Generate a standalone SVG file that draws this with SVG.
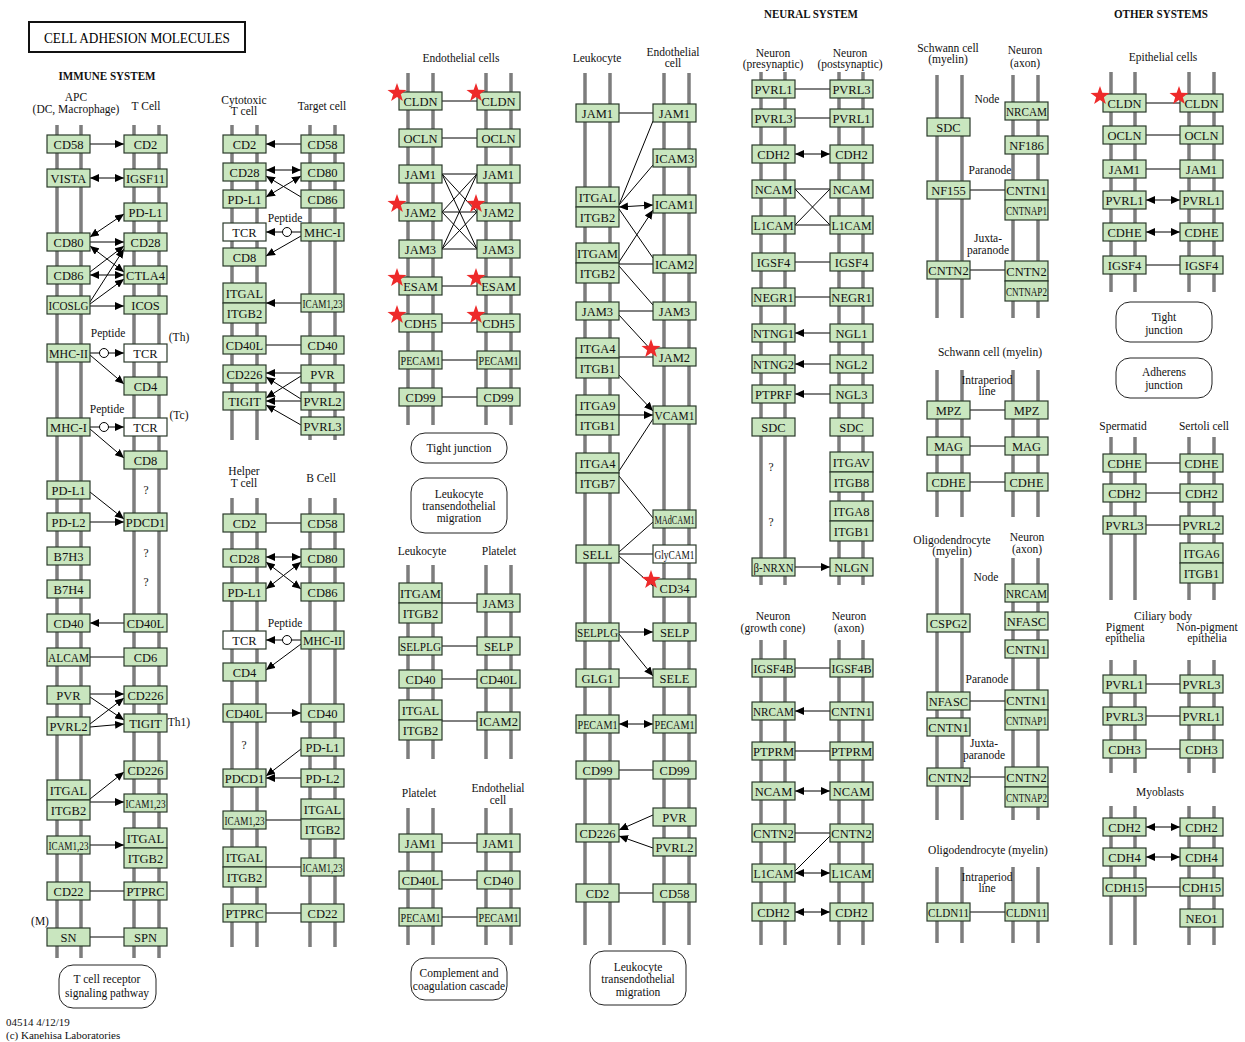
<svg xmlns="http://www.w3.org/2000/svg" width="1245" height="1042" viewBox="0 0 1245 1042">
<style>
.n rect{fill:#c9e6bf;stroke:#2b3a2b;stroke-width:1.2}
.n.w rect{fill:#fff}
.n text{font-family:"Liberation Serif",serif;font-size:12.5px;text-anchor:middle;fill:#111}
.m path{stroke:#7d7d7d;stroke-width:3.5;fill:none}
#connectors line{stroke:#000;stroke-width:1;fill:none}
.a{marker-end:url(#ah)}
.b{marker-start:url(#ah);marker-end:url(#ah)}
.t{font-family:"Liberation Serif",serif;font-size:11.5px;text-anchor:middle;fill:#111}
.h{font-family:"Liberation Serif",serif;font-size:12px;font-weight:bold;text-anchor:middle;fill:#111}
.pw rect{fill:#fff;stroke:#222;stroke-width:1}
.pep{fill:#fff;stroke:#000;stroke-width:1}
.star{fill:#ee2a2a}
</style>
<defs>
<marker id="ah" markerUnits="userSpaceOnUse" markerWidth="9" markerHeight="8" refX="9" refY="4" orient="auto-start-reverse"><path d="M0,0L9,4L0,8z" fill="#000"/></marker>
<polygon id="st" points="0,-10 2.35,-3.24 9.51,-3.09 3.8,1.24 5.88,8.09 0,4 -5.88,8.09 -3.8,1.24 -9.51,-3.09 -2.35,-3.24"/>
</defs>
<rect width="1245" height="1042" fill="#fff"/>

<g id="membranes" class="m"><path d="M57 125V958M81 125V958M134 125V958M159 125V958
M232 125V440M257 125V440M310 125V440M335 125V440
M232 498V947M257 498V947M310 498V947M335 498V947
M408 73V425M433 73V425M486 73V425M511 73V425
M408 565V759M433 565V759M486 565V759M511 565V759
M408 808V945M433 808V945M486 808V945M511 808V945
M585 73V945M610 73V945M664 73V945M689 73V945
M761 72V585M785 72V585M839 72V585M863 72V585
M761 640V945M785 640V945M839 640V945M863 640V945
M937 75V318M962 75V318M1013 75V318M1038 75V318
M937 370V517M962 370V517M1013 370V517M1038 370V517
M937 558V820M962 558V820M1013 558V820M1038 558V820
M937 867V943M962 867V943M1013 867V943M1038 867V943
M1111 72V292M1135 72V292M1189 72V292M1214 72V292
M1111 437V600M1135 437V600M1189 437V600M1214 437V600
M1111 660V773M1135 660V773M1189 660V773M1214 660V773
M1111 806V945M1135 806V945M1189 806V945M1214 806V945"/></g>

<g id="connectors">
<line class="a" x1="90" y1="144" x2="124" y2="144"/>
<line class="b" x1="90" y1="178" x2="124" y2="178"/>
<line class="b" x1="90" y1="237" x2="124" y2="214"/>
<line class="a" x1="90" y1="242" x2="124" y2="242"/>
<line class="b" x1="90" y1="246" x2="124" y2="272"/>
<line class="a" x1="90" y1="272" x2="124" y2="246"/>
<line class="b" x1="90" y1="275" x2="124" y2="275"/>
<line class="a" x1="90" y1="302" x2="124" y2="249"/>
<line class="a" x1="90" y1="304" x2="124" y2="279"/>
<line class="a" x1="90" y1="306" x2="124" y2="306"/>
<line class="a" x1="90" y1="353" x2="124" y2="353"/>
<line class="a" x1="90" y1="355" x2="124" y2="384"/>
<line class="a" x1="90" y1="427" x2="124" y2="427"/>
<line class="a" x1="90" y1="429" x2="124" y2="458"/>
<line class="a" x1="90" y1="492" x2="124" y2="519"/>
<line class="a" x1="90" y1="522" x2="124" y2="522"/>
<line class="a" x1="124" y1="623" x2="90" y2="623"/>
<line x1="90" y1="657" x2="124" y2="657"/>
<line class="a" x1="90" y1="694" x2="124" y2="694"/>
<line class="a" x1="90" y1="697" x2="124" y2="720"/>
<line class="a" x1="90" y1="724" x2="124" y2="698"/>
<line class="a" x1="90" y1="727" x2="124" y2="724"/>
<line class="a" x1="90" y1="799" x2="124" y2="772"/>
<line class="a" x1="90" y1="802" x2="124" y2="802"/>
<line class="a" x1="90" y1="845" x2="124" y2="845"/>
<line x1="90" y1="891" x2="124" y2="891"/>
<line x1="90" y1="937" x2="124" y2="937"/>

<line class="a" x1="301" y1="144" x2="266" y2="144"/>
<line class="b" x1="266" y1="170" x2="301" y2="170"/>
<line class="a" x1="301" y1="197" x2="266" y2="176"/>
<line class="b" x1="266" y1="197" x2="301" y2="176"/>
<line class="a" x1="301" y1="232" x2="266" y2="232"/>
<line class="a" x1="301" y1="236" x2="266" y2="256"/>
<line class="a" x1="301" y1="303" x2="266" y2="303"/>
<line x1="266" y1="345" x2="301" y2="345"/>
<line class="a" x1="301" y1="373" x2="266" y2="373"/>
<line class="a" x1="301" y1="376" x2="266" y2="398"/>
<line class="a" x1="301" y1="399" x2="266" y2="377"/>
<line class="a" x1="301" y1="401" x2="266" y2="401"/>
<line class="a" x1="301" y1="425" x2="266" y2="405"/>

<line x1="266" y1="523" x2="301" y2="523"/>
<line class="b" x1="266" y1="557" x2="301" y2="557"/>
<line class="b" x1="266" y1="562" x2="301" y2="589"/>
<line class="b" x1="266" y1="589" x2="301" y2="562"/>
<line class="a" x1="301" y1="640" x2="266" y2="640"/>
<line class="a" x1="301" y1="644" x2="266" y2="670"/>
<line class="a" x1="266" y1="713" x2="301" y2="713"/>
<line class="a" x1="301" y1="749" x2="266" y2="776"/>
<line class="a" x1="301" y1="778" x2="266" y2="778"/>
<line x1="266" y1="820" x2="301" y2="820"/>
<line x1="266" y1="867" x2="301" y2="867"/>
<line x1="266" y1="913" x2="301" y2="913"/>

<line x1="442" y1="101" x2="477" y2="101"/>
<line x1="442" y1="138" x2="477" y2="138"/>
<line x1="442" y1="174" x2="477" y2="174"/>
<line x1="442" y1="212" x2="477" y2="212"/>
<line x1="442" y1="249" x2="477" y2="249"/>
<line x1="442" y1="174" x2="477" y2="212"/>
<line x1="442" y1="174" x2="477" y2="249"/>
<line x1="442" y1="212" x2="477" y2="174"/>
<line x1="442" y1="212" x2="477" y2="249"/>
<line x1="442" y1="249" x2="477" y2="174"/>
<line x1="442" y1="249" x2="477" y2="212"/>
<line x1="442" y1="286" x2="477" y2="286"/>
<line x1="442" y1="323" x2="477" y2="323"/>
<line x1="442" y1="360" x2="477" y2="360"/>
<line x1="442" y1="397" x2="477" y2="397"/>
<line x1="442" y1="603" x2="477" y2="603"/>
<line x1="442" y1="646" x2="477" y2="646"/>
<line x1="442" y1="679" x2="477" y2="679"/>
<line x1="442" y1="721" x2="477" y2="721"/>
<line x1="442" y1="843" x2="477" y2="843"/>
<line x1="442" y1="880" x2="477" y2="880"/>
<line x1="442" y1="917" x2="477" y2="917"/>

<line x1="619" y1="113" x2="653" y2="113"/>
<line x1="619" y1="205" x2="653" y2="121"/>
<line x1="619" y1="205" x2="653" y2="165"/>
<line class="b" x1="619" y1="207" x2="653" y2="205"/>
<line x1="619" y1="209" x2="653" y2="258"/>
<line class="a" x1="619" y1="262" x2="653" y2="210"/>
<line x1="619" y1="264" x2="653" y2="264"/>
<line x1="619" y1="266" x2="653" y2="305"/>
<line x1="619" y1="311" x2="653" y2="311"/>
<line x1="619" y1="315" x2="653" y2="352"/>
<line x1="619" y1="357" x2="653" y2="357"/>
<line class="a" x1="619" y1="375" x2="653" y2="411"/>
<line class="a" x1="619" y1="415" x2="653" y2="415"/>
<line x1="619" y1="471" x2="653" y2="419"/>
<line x1="619" y1="476" x2="653" y2="518"/>
<line x1="619" y1="552" x2="653" y2="522"/>
<line x1="619" y1="554" x2="653" y2="554"/>
<line x1="619" y1="556" x2="653" y2="586"/>
<line class="a" x1="619" y1="632" x2="653" y2="632"/>
<line class="a" x1="619" y1="634" x2="653" y2="676"/>
<line x1="619" y1="678" x2="653" y2="678"/>
<line class="b" x1="619" y1="724" x2="653" y2="724"/>
<line x1="619" y1="770" x2="653" y2="770"/>
<line class="a" x1="653" y1="815" x2="619" y2="830"/>
<line class="a" x1="653" y1="848" x2="619" y2="836"/>
<line x1="619" y1="893" x2="653" y2="893"/>

<line x1="795" y1="89" x2="830" y2="89"/>
<line x1="795" y1="118" x2="830" y2="118"/>
<line class="b" x1="795" y1="154" x2="830" y2="154"/>
<line x1="795" y1="189" x2="830" y2="189"/>
<line x1="795" y1="225" x2="830" y2="225"/>
<line x1="795" y1="189" x2="830" y2="225"/>
<line x1="795" y1="225" x2="830" y2="189"/>
<line x1="795" y1="262" x2="830" y2="262"/>
<line x1="795" y1="297" x2="830" y2="297"/>
<line class="a" x1="830" y1="333" x2="795" y2="333"/>
<line class="a" x1="830" y1="364" x2="795" y2="364"/>
<line class="a" x1="830" y1="394" x2="795" y2="394"/>
<line class="a" x1="795" y1="567" x2="830" y2="567"/>
<line x1="795" y1="668" x2="830" y2="668"/>
<line class="a" x1="830" y1="711" x2="795" y2="711"/>
<line x1="795" y1="751" x2="830" y2="751"/>
<line class="b" x1="795" y1="791" x2="830" y2="791"/>
<line x1="795" y1="833" x2="830" y2="833"/>
<line x1="795" y1="871" x2="830" y2="836"/>
<line class="b" x1="795" y1="873" x2="830" y2="873"/>
<line class="b" x1="795" y1="912" x2="830" y2="912"/>

<line x1="970" y1="190" x2="1005" y2="190"/>
<line x1="970" y1="270" x2="1005" y2="270"/>
<line x1="970" y1="410" x2="1005" y2="410"/>
<line x1="970" y1="446" x2="1005" y2="446"/>
<line x1="970" y1="482" x2="1005" y2="482"/>
<line x1="970" y1="701" x2="1005" y2="701"/>
<line x1="970" y1="777" x2="1005" y2="777"/>
<line x1="970" y1="912" x2="1005" y2="912"/>

<line x1="1146" y1="103" x2="1180" y2="103"/>
<line x1="1146" y1="135" x2="1180" y2="135"/>
<line x1="1146" y1="169" x2="1180" y2="169"/>
<line class="b" x1="1146" y1="200" x2="1180" y2="200"/>
<line class="b" x1="1146" y1="232" x2="1180" y2="232"/>
<line x1="1146" y1="265" x2="1180" y2="265"/>
<line x1="1146" y1="463" x2="1180" y2="463"/>
<line x1="1146" y1="493" x2="1180" y2="493"/>
<line x1="1146" y1="525" x2="1180" y2="525"/>
<line x1="1146" y1="684" x2="1180" y2="684"/>
<line x1="1146" y1="716" x2="1180" y2="716"/>
<line x1="1146" y1="749" x2="1180" y2="749"/>
<line class="b" x1="1146" y1="827" x2="1180" y2="827"/>
<line class="b" x1="1146" y1="857" x2="1180" y2="857"/>
<line x1="1146" y1="887" x2="1180" y2="887"/>
<circle class="pep" cx="104" cy="353" r="4.5"/>
<circle class="pep" cx="104" cy="427" r="4.5"/>
<circle class="pep" cx="287" cy="232" r="4.5"/>
<circle class="pep" cx="287" cy="640" r="4.5"/>
</g>

<!-- Panel A: APC / T cell -->
<g id="a-cd58" class="n"><rect x="47" y="135" width="43" height="18"/><text x="68.5" y="148.5">CD58</text></g>
<g id="a-vista" class="n"><rect x="47" y="169" width="43" height="18"/><text x="68.5" y="182.5">VISTA</text></g>
<g id="a-cd80" class="n"><rect x="47" y="233" width="43" height="18"/><text x="68.5" y="246.5">CD80</text></g>
<g id="a-cd86" class="n"><rect x="47" y="266" width="43" height="18"/><text x="68.5" y="279.5">CD86</text></g>
<g id="a-icoslg" class="n"><rect x="47" y="296" width="43" height="18"/><text x="68.5" y="309.5" textLength="40" lengthAdjust="spacingAndGlyphs">ICOSLG</text></g>
<g id="a-mhc2" class="n"><rect x="47" y="344" width="43" height="18"/><text x="68.5" y="357.5" textLength="39" lengthAdjust="spacingAndGlyphs">MHC-II</text></g>
<g id="a-mhc1" class="n"><rect x="47" y="418" width="43" height="18"/><text x="68.5" y="431.5">MHC-I</text></g>
<g id="a-pdl1" class="n"><rect x="47" y="481" width="43" height="18"/><text x="68.5" y="494.5">PD-L1</text></g>
<g id="a-pdl2" class="n"><rect x="47" y="513" width="43" height="18"/><text x="68.5" y="526.5">PD-L2</text></g>
<g id="a-b7h3" class="n"><rect x="47" y="547" width="43" height="18"/><text x="68.5" y="560.5">B7H3</text></g>
<g id="a-b7h4" class="n"><rect x="47" y="580" width="43" height="18"/><text x="68.5" y="593.5">B7H4</text></g>
<g id="a-cd40" class="n"><rect x="47" y="614" width="43" height="18"/><text x="68.5" y="627.5">CD40</text></g>
<g id="a-alcam" class="n"><rect x="47" y="648" width="43" height="18"/><text x="68.5" y="661.5" textLength="41" lengthAdjust="spacingAndGlyphs">ALCAM</text></g>
<g id="a-pvr" class="n"><rect x="47" y="686" width="43" height="18"/><text x="68.5" y="699.5">PVR</text></g>
<g id="a-pvrl2" class="n"><rect x="47" y="717" width="43" height="18"/><text x="68.5" y="730.5">PVRL2</text></g>
<g id="a-itgal" class="n"><rect x="47" y="780" width="43" height="20"/><rect x="47" y="800" width="43" height="20"/><text x="68.5" y="794.5">ITGAL</text><text x="68.5" y="814.5">ITGB2</text></g>
<g id="a-icam" class="n"><rect x="47" y="836" width="43" height="18"/><text x="68.5" y="849.5" textLength="40" lengthAdjust="spacingAndGlyphs">ICAM1,23</text></g>
<g id="a-cd22" class="n"><rect x="47" y="882" width="43" height="18"/><text x="68.5" y="895.5">CD22</text></g>
<g id="a-sn" class="n"><rect x="47" y="928" width="43" height="18"/><text x="68.5" y="941.5">SN</text></g>
<g id="a-cd2" class="n"><rect x="124" y="135" width="43" height="18"/><text x="145.5" y="148.5">CD2</text></g>
<g id="a-igsf11" class="n"><rect x="124" y="169" width="43" height="18"/><text x="145.5" y="182.5">IGSF11</text></g>
<g id="a-tpdl1" class="n"><rect x="124" y="203" width="43" height="18"/><text x="145.5" y="216.5">PD-L1</text></g>
<g id="a-cd28" class="n"><rect x="124" y="233" width="43" height="18"/><text x="145.5" y="246.5">CD28</text></g>
<g id="a-ctla4" class="n"><rect x="124" y="266" width="43" height="18"/><text x="145.5" y="279.5">CTLA4</text></g>
<g id="a-icos" class="n"><rect x="124" y="296" width="43" height="18"/><text x="145.5" y="309.5">ICOS</text></g>
<g id="a-tcr1" class="n w"><rect x="124" y="344" width="43" height="18"/><text x="145.5" y="357.5">TCR</text></g>
<g id="a-cd4" class="n"><rect x="124" y="377" width="43" height="18"/><text x="145.5" y="390.5">CD4</text></g>
<g id="a-tcr2" class="n w"><rect x="124" y="418" width="43" height="18"/><text x="145.5" y="431.5">TCR</text></g>
<g id="a-cd8" class="n"><rect x="124" y="451" width="43" height="18"/><text x="145.5" y="464.5">CD8</text></g>
<g id="a-pdcd1" class="n"><rect x="124" y="513" width="43" height="18"/><text x="145.5" y="526.5">PDCD1</text></g>
<g id="a-cd40l" class="n"><rect x="124" y="614" width="43" height="18"/><text x="145.5" y="627.5">CD40L</text></g>
<g id="a-cd6" class="n"><rect x="124" y="648" width="43" height="18"/><text x="145.5" y="661.5">CD6</text></g>
<g id="a-cd226a" class="n"><rect x="124" y="686" width="43" height="18"/><text x="145.5" y="699.5">CD226</text></g>
<g id="a-tigit" class="n"><rect x="124" y="714" width="43" height="18"/><text x="145.5" y="727.5">TIGIT</text></g>
<g id="a-cd226b" class="n"><rect x="124" y="761" width="43" height="18"/><text x="145.5" y="774.5">CD226</text></g>
<g id="a-ticam" class="n"><rect x="124" y="794" width="43" height="18"/><text x="145.5" y="807.5" textLength="40" lengthAdjust="spacingAndGlyphs">ICAM1,23</text></g>
<g id="a-titgal" class="n"><rect x="124" y="828" width="43" height="20"/><rect x="124" y="848" width="43" height="20"/><text x="145.5" y="842.5">ITGAL</text><text x="145.5" y="862.5">ITGB2</text></g>
<g id="a-ptprc" class="n"><rect x="124" y="882" width="43" height="18"/><text x="145.5" y="895.5">PTPRC</text></g>
<g id="a-spn" class="n"><rect x="124" y="928" width="43" height="18"/><text x="145.5" y="941.5">SPN</text></g>

<!-- Panel B: Cytotoxic T cell / Target cell -->
<g id="b-cd2" class="n"><rect x="223" y="135" width="43" height="18"/><text x="244.5" y="148.5">CD2</text></g>
<g id="b-cd28" class="n"><rect x="223" y="163" width="43" height="18"/><text x="244.5" y="176.5">CD28</text></g>
<g id="b-pdl1" class="n"><rect x="223" y="190" width="43" height="18"/><text x="244.5" y="203.5">PD-L1</text></g>
<g id="b-tcr" class="n w"><rect x="223" y="223" width="43" height="18"/><text x="244.5" y="236.5">TCR</text></g>
<g id="b-cd8" class="n"><rect x="223" y="248" width="43" height="18"/><text x="244.5" y="261.5">CD8</text></g>
<g id="b-itgal" class="n"><rect x="223" y="283" width="43" height="20"/><rect x="223" y="303" width="43" height="20"/><text x="244.5" y="297.5">ITGAL</text><text x="244.5" y="317.5">ITGB2</text></g>
<g id="b-cd40l" class="n"><rect x="223" y="336" width="43" height="18"/><text x="244.5" y="349.5">CD40L</text></g>
<g id="b-cd226" class="n"><rect x="223" y="365" width="43" height="18"/><text x="244.5" y="378.5">CD226</text></g>
<g id="b-tigit" class="n"><rect x="223" y="392" width="43" height="18"/><text x="244.5" y="405.5">TIGIT</text></g>
<g id="b-cd58" class="n"><rect x="301" y="135" width="43" height="18"/><text x="322.5" y="148.5">CD58</text></g>
<g id="b-cd80" class="n"><rect x="301" y="163" width="43" height="18"/><text x="322.5" y="176.5">CD80</text></g>
<g id="b-cd86" class="n"><rect x="301" y="190" width="43" height="18"/><text x="322.5" y="203.5">CD86</text></g>
<g id="b-mhc1" class="n"><rect x="301" y="223" width="43" height="18"/><text x="322.5" y="236.5">MHC-I</text></g>
<g id="b-icam" class="n"><rect x="301" y="294" width="43" height="18"/><text x="322.5" y="307.5" textLength="40" lengthAdjust="spacingAndGlyphs">ICAM1,23</text></g>
<g id="b-cd40" class="n"><rect x="301" y="336" width="43" height="18"/><text x="322.5" y="349.5">CD40</text></g>
<g id="b-pvr" class="n"><rect x="301" y="365" width="43" height="18"/><text x="322.5" y="378.5">PVR</text></g>
<g id="b-pvrl2" class="n"><rect x="301" y="392" width="43" height="18"/><text x="322.5" y="405.5">PVRL2</text></g>
<g id="b-pvrl3" class="n"><rect x="301" y="417" width="43" height="18"/><text x="322.5" y="430.5">PVRL3</text></g>

<!-- Panel C: Helper T cell / B cell -->
<g id="c-cd2" class="n"><rect x="223" y="514" width="43" height="18"/><text x="244.5" y="527.5">CD2</text></g>
<g id="c-cd28" class="n"><rect x="223" y="549" width="43" height="18"/><text x="244.5" y="562.5">CD28</text></g>
<g id="c-pdl1" class="n"><rect x="223" y="583" width="43" height="18"/><text x="244.5" y="596.5">PD-L1</text></g>
<g id="c-tcr" class="n w"><rect x="223" y="631" width="43" height="18"/><text x="244.5" y="644.5">TCR</text></g>
<g id="c-cd4" class="n"><rect x="223" y="663" width="43" height="18"/><text x="244.5" y="676.5">CD4</text></g>
<g id="c-cd40l" class="n"><rect x="223" y="704" width="43" height="18"/><text x="244.5" y="717.5">CD40L</text></g>
<g id="c-pdcd1" class="n"><rect x="223" y="769" width="43" height="18"/><text x="244.5" y="782.5">PDCD1</text></g>
<g id="c-icam" class="n"><rect x="223" y="811" width="43" height="18"/><text x="244.5" y="824.5" textLength="40" lengthAdjust="spacingAndGlyphs">ICAM1,23</text></g>
<g id="c-itgal" class="n"><rect x="223" y="847" width="43" height="20"/><rect x="223" y="867" width="43" height="20"/><text x="244.5" y="861.5">ITGAL</text><text x="244.5" y="881.5">ITGB2</text></g>
<g id="c-ptprc" class="n"><rect x="223" y="904" width="43" height="18"/><text x="244.5" y="917.5">PTPRC</text></g>
<g id="c-cd58" class="n"><rect x="301" y="514" width="43" height="18"/><text x="322.5" y="527.5">CD58</text></g>
<g id="c-cd80" class="n"><rect x="301" y="549" width="43" height="18"/><text x="322.5" y="562.5">CD80</text></g>
<g id="c-cd86" class="n"><rect x="301" y="583" width="43" height="18"/><text x="322.5" y="596.5">CD86</text></g>
<g id="c-mhc2" class="n"><rect x="301" y="631" width="43" height="18"/><text x="322.5" y="644.5" textLength="39" lengthAdjust="spacingAndGlyphs">MHC-II</text></g>
<g id="c-cd40" class="n"><rect x="301" y="704" width="43" height="18"/><text x="322.5" y="717.5">CD40</text></g>
<g id="c-bpdl1" class="n"><rect x="301" y="738" width="43" height="18"/><text x="322.5" y="751.5">PD-L1</text></g>
<g id="c-pdl2" class="n"><rect x="301" y="769" width="43" height="18"/><text x="322.5" y="782.5">PD-L2</text></g>
<g id="c-bitgal" class="n"><rect x="301" y="799" width="43" height="20"/><rect x="301" y="819" width="43" height="20"/><text x="322.5" y="813.5">ITGAL</text><text x="322.5" y="833.5">ITGB2</text></g>
<g id="c-bicam" class="n"><rect x="301" y="858" width="43" height="18"/><text x="322.5" y="871.5" textLength="40" lengthAdjust="spacingAndGlyphs">ICAM1,23</text></g>
<g id="c-cd22" class="n"><rect x="301" y="904" width="43" height="18"/><text x="322.5" y="917.5">CD22</text></g>

<!-- Panel D: Endothelial cells -->
<g id="d-cldn-l" class="n"><rect x="399" y="92" width="43" height="18"/><text x="420.5" y="105.5">CLDN</text></g>
<g id="d-ocln-l" class="n"><rect x="399" y="129" width="43" height="18"/><text x="420.5" y="142.5">OCLN</text></g>
<g id="d-jam1-l" class="n"><rect x="399" y="165" width="43" height="18"/><text x="420.5" y="178.5">JAM1</text></g>
<g id="d-jam2-l" class="n"><rect x="399" y="203" width="43" height="18"/><text x="420.5" y="216.5">JAM2</text></g>
<g id="d-jam3-l" class="n"><rect x="399" y="240" width="43" height="18"/><text x="420.5" y="253.5">JAM3</text></g>
<g id="d-esam-l" class="n"><rect x="399" y="277" width="43" height="18"/><text x="420.5" y="290.5">ESAM</text></g>
<g id="d-cdh5-l" class="n"><rect x="399" y="314" width="43" height="18"/><text x="420.5" y="327.5">CDH5</text></g>
<g id="d-pecam1-l" class="n"><rect x="399" y="351" width="43" height="18"/><text x="420.5" y="364.5" textLength="40" lengthAdjust="spacingAndGlyphs">PECAM1</text></g>
<g id="d-cd99-l" class="n"><rect x="399" y="388" width="43" height="18"/><text x="420.5" y="401.5">CD99</text></g>
<g id="d-cldn-r" class="n"><rect x="477" y="92" width="43" height="18"/><text x="498.5" y="105.5">CLDN</text></g>
<g id="d-ocln-r" class="n"><rect x="477" y="129" width="43" height="18"/><text x="498.5" y="142.5">OCLN</text></g>
<g id="d-jam1-r" class="n"><rect x="477" y="165" width="43" height="18"/><text x="498.5" y="178.5">JAM1</text></g>
<g id="d-jam2-r" class="n"><rect x="477" y="203" width="43" height="18"/><text x="498.5" y="216.5">JAM2</text></g>
<g id="d-jam3-r" class="n"><rect x="477" y="240" width="43" height="18"/><text x="498.5" y="253.5">JAM3</text></g>
<g id="d-esam-r" class="n"><rect x="477" y="277" width="43" height="18"/><text x="498.5" y="290.5">ESAM</text></g>
<g id="d-cdh5-r" class="n"><rect x="477" y="314" width="43" height="18"/><text x="498.5" y="327.5">CDH5</text></g>
<g id="d-pecam1-r" class="n"><rect x="477" y="351" width="43" height="18"/><text x="498.5" y="364.5" textLength="40" lengthAdjust="spacingAndGlyphs">PECAM1</text></g>
<g id="d-cd99-r" class="n"><rect x="477" y="388" width="43" height="18"/><text x="498.5" y="401.5">CD99</text></g>
<g id="d2-itgam" class="n"><rect x="399" y="583" width="43" height="20"/><rect x="399" y="603" width="43" height="20"/><text x="420.5" y="597.5">ITGAM</text><text x="420.5" y="617.5">ITGB2</text></g>
<g id="d2-selplg" class="n"><rect x="399" y="637" width="43" height="18"/><text x="420.5" y="650.5" textLength="41" lengthAdjust="spacingAndGlyphs">SELPLG</text></g>
<g id="d2-cd40" class="n"><rect x="399" y="670" width="43" height="18"/><text x="420.5" y="683.5">CD40</text></g>
<g id="d2-itgal" class="n"><rect x="399" y="700" width="43" height="20"/><rect x="399" y="720" width="43" height="20"/><text x="420.5" y="714.5">ITGAL</text><text x="420.5" y="734.5">ITGB2</text></g>
<g id="d2-jam3" class="n"><rect x="477" y="594" width="43" height="18"/><text x="498.5" y="607.5">JAM3</text></g>
<g id="d2-selp" class="n"><rect x="477" y="637" width="43" height="18"/><text x="498.5" y="650.5">SELP</text></g>
<g id="d2-cd40l" class="n"><rect x="477" y="670" width="43" height="18"/><text x="498.5" y="683.5">CD40L</text></g>
<g id="d2-icam2" class="n"><rect x="477" y="712" width="43" height="18"/><text x="498.5" y="725.5">ICAM2</text></g>
<g id="d3-jam1-l" class="n"><rect x="399" y="834" width="43" height="18"/><text x="420.5" y="847.5">JAM1</text></g>
<g id="d3-cd40l" class="n"><rect x="399" y="871" width="43" height="18"/><text x="420.5" y="884.5">CD40L</text></g>
<g id="d3-pecam1-l" class="n"><rect x="399" y="908" width="43" height="18"/><text x="420.5" y="921.5" textLength="40" lengthAdjust="spacingAndGlyphs">PECAM1</text></g>
<g id="d3-jam1-r" class="n"><rect x="477" y="834" width="43" height="18"/><text x="498.5" y="847.5">JAM1</text></g>
<g id="d3-cd40" class="n"><rect x="477" y="871" width="43" height="18"/><text x="498.5" y="884.5">CD40</text></g>
<g id="d3-pecam1-r" class="n"><rect x="477" y="908" width="43" height="18"/><text x="498.5" y="921.5" textLength="40" lengthAdjust="spacingAndGlyphs">PECAM1</text></g>

<!-- Panel E: Leukocyte / Endothelial cell -->
<g id="e-jam1-l" class="n"><rect x="576" y="104" width="43" height="18"/><text x="597.5" y="117.5">JAM1</text></g>
<g id="e-itgal" class="n"><rect x="576" y="187" width="43" height="20"/><rect x="576" y="207" width="43" height="20"/><text x="597.5" y="201.5">ITGAL</text><text x="597.5" y="221.5">ITGB2</text></g>
<g id="e-itgam" class="n"><rect x="576" y="243" width="43" height="20"/><rect x="576" y="263" width="43" height="20"/><text x="597.5" y="257.5">ITGAM</text><text x="597.5" y="277.5">ITGB2</text></g>
<g id="e-jam3-l" class="n"><rect x="576" y="302" width="43" height="18"/><text x="597.5" y="315.5">JAM3</text></g>
<g id="e-itga4b1" class="n"><rect x="576" y="338" width="43" height="20"/><rect x="576" y="358" width="43" height="20"/><text x="597.5" y="352.5">ITGA4</text><text x="597.5" y="372.5">ITGB1</text></g>
<g id="e-itga9b1" class="n"><rect x="576" y="395" width="43" height="20"/><rect x="576" y="415" width="43" height="20"/><text x="597.5" y="409.5">ITGA9</text><text x="597.5" y="429.5">ITGB1</text></g>
<g id="e-itga4b7" class="n"><rect x="576" y="453" width="43" height="20"/><rect x="576" y="473" width="43" height="20"/><text x="597.5" y="467.5">ITGA4</text><text x="597.5" y="487.5">ITGB7</text></g>
<g id="e-sell" class="n"><rect x="576" y="545" width="43" height="18"/><text x="597.5" y="558.5">SELL</text></g>
<g id="e-selplg" class="n"><rect x="576" y="623" width="43" height="18"/><text x="597.5" y="636.5" textLength="41" lengthAdjust="spacingAndGlyphs">SELPLG</text></g>
<g id="e-glg1" class="n"><rect x="576" y="669" width="43" height="18"/><text x="597.5" y="682.5">GLG1</text></g>
<g id="e-pecam1-l" class="n"><rect x="576" y="715" width="43" height="18"/><text x="597.5" y="728.5" textLength="40" lengthAdjust="spacingAndGlyphs">PECAM1</text></g>
<g id="e-cd99-l" class="n"><rect x="576" y="761" width="43" height="18"/><text x="597.5" y="774.5">CD99</text></g>
<g id="e-cd226" class="n"><rect x="576" y="824" width="43" height="18"/><text x="597.5" y="837.5">CD226</text></g>
<g id="e-cd2" class="n"><rect x="576" y="884" width="43" height="18"/><text x="597.5" y="897.5">CD2</text></g>
<g id="e-jam1-r" class="n"><rect x="653" y="104" width="43" height="18"/><text x="674.5" y="117.5">JAM1</text></g>
<g id="e-icam3" class="n"><rect x="653" y="149" width="43" height="18"/><text x="674.5" y="162.5">ICAM3</text></g>
<g id="e-icam1" class="n"><rect x="653" y="195" width="43" height="18"/><text x="674.5" y="208.5">ICAM1</text></g>
<g id="e-icam2" class="n"><rect x="653" y="255" width="43" height="18"/><text x="674.5" y="268.5">ICAM2</text></g>
<g id="e-jam3-r" class="n"><rect x="653" y="302" width="43" height="18"/><text x="674.5" y="315.5">JAM3</text></g>
<g id="e-jam2" class="n"><rect x="653" y="348" width="43" height="18"/><text x="674.5" y="361.5">JAM2</text></g>
<g id="e-vcam1" class="n"><rect x="653" y="406" width="43" height="18"/><text x="674.5" y="419.5" textLength="40" lengthAdjust="spacingAndGlyphs">VCAM1</text></g>
<g id="e-madcam1" class="n"><rect x="653" y="510" width="43" height="18"/><text x="674.5" y="523.5" textLength="40" lengthAdjust="spacingAndGlyphs">MAdCAM1</text></g>
<g id="e-glycam1" class="n w"><rect x="653" y="545" width="43" height="18"/><text x="674.5" y="558.5" textLength="40" lengthAdjust="spacingAndGlyphs">GlyCAM1</text></g>
<g id="e-cd34" class="n"><rect x="653" y="579" width="43" height="18"/><text x="674.5" y="592.5">CD34</text></g>
<g id="e-selp" class="n"><rect x="653" y="623" width="43" height="18"/><text x="674.5" y="636.5">SELP</text></g>
<g id="e-sele" class="n"><rect x="653" y="669" width="43" height="18"/><text x="674.5" y="682.5">SELE</text></g>
<g id="e-pecam1-r" class="n"><rect x="653" y="715" width="43" height="18"/><text x="674.5" y="728.5" textLength="40" lengthAdjust="spacingAndGlyphs">PECAM1</text></g>
<g id="e-cd99-r" class="n"><rect x="653" y="761" width="43" height="18"/><text x="674.5" y="774.5">CD99</text></g>
<g id="e-pvr" class="n"><rect x="653" y="808" width="43" height="18"/><text x="674.5" y="821.5">PVR</text></g>
<g id="e-pvrl2" class="n"><rect x="653" y="838" width="43" height="18"/><text x="674.5" y="851.5">PVRL2</text></g>
<g id="e-cd58" class="n"><rect x="653" y="884" width="43" height="18"/><text x="674.5" y="897.5">CD58</text></g>

<!-- Panel F: Neurons -->
<g id="f-pvrl1-l" class="n"><rect x="752" y="80" width="43" height="18"/><text x="773.5" y="93.5">PVRL1</text></g>
<g id="f-pvrl3-l" class="n"><rect x="752" y="109" width="43" height="18"/><text x="773.5" y="122.5">PVRL3</text></g>
<g id="f-cdh2-l" class="n"><rect x="752" y="145" width="43" height="18"/><text x="773.5" y="158.5">CDH2</text></g>
<g id="f-ncam-l" class="n"><rect x="752" y="180" width="43" height="18"/><text x="773.5" y="193.5">NCAM</text></g>
<g id="f-l1cam-l" class="n"><rect x="752" y="216" width="43" height="18"/><text x="773.5" y="229.5" textLength="40" lengthAdjust="spacingAndGlyphs">L1CAM</text></g>
<g id="f-igsf4-l" class="n"><rect x="752" y="253" width="43" height="18"/><text x="773.5" y="266.5">IGSF4</text></g>
<g id="f-negr1-l" class="n"><rect x="752" y="288" width="43" height="18"/><text x="773.5" y="301.5">NEGR1</text></g>
<g id="f-ntng1" class="n"><rect x="752" y="324" width="43" height="18"/><text x="773.5" y="337.5">NTNG1</text></g>
<g id="f-ntng2" class="n"><rect x="752" y="355" width="43" height="18"/><text x="773.5" y="368.5">NTNG2</text></g>
<g id="f-ptprf" class="n"><rect x="752" y="385" width="43" height="18"/><text x="773.5" y="398.5">PTPRF</text></g>
<g id="f-sdc-l" class="n"><rect x="752" y="418" width="43" height="18"/><text x="773.5" y="431.5">SDC</text></g>
<g id="f-bnrxn" class="n"><rect x="752" y="558" width="43" height="18"/><text x="773.5" y="571.5" textLength="40" lengthAdjust="spacingAndGlyphs">β-NRXN</text></g>
<g id="f-pvrl3-r" class="n"><rect x="830" y="80" width="43" height="18"/><text x="851.5" y="93.5">PVRL3</text></g>
<g id="f-pvrl1-r" class="n"><rect x="830" y="109" width="43" height="18"/><text x="851.5" y="122.5">PVRL1</text></g>
<g id="f-cdh2-r" class="n"><rect x="830" y="145" width="43" height="18"/><text x="851.5" y="158.5">CDH2</text></g>
<g id="f-ncam-r" class="n"><rect x="830" y="180" width="43" height="18"/><text x="851.5" y="193.5">NCAM</text></g>
<g id="f-l1cam-r" class="n"><rect x="830" y="216" width="43" height="18"/><text x="851.5" y="229.5" textLength="40" lengthAdjust="spacingAndGlyphs">L1CAM</text></g>
<g id="f-igsf4-r" class="n"><rect x="830" y="253" width="43" height="18"/><text x="851.5" y="266.5">IGSF4</text></g>
<g id="f-negr1-r" class="n"><rect x="830" y="288" width="43" height="18"/><text x="851.5" y="301.5">NEGR1</text></g>
<g id="f-ngl1" class="n"><rect x="830" y="324" width="43" height="18"/><text x="851.5" y="337.5">NGL1</text></g>
<g id="f-ngl2" class="n"><rect x="830" y="355" width="43" height="18"/><text x="851.5" y="368.5">NGL2</text></g>
<g id="f-ngl3" class="n"><rect x="830" y="385" width="43" height="18"/><text x="851.5" y="398.5">NGL3</text></g>
<g id="f-sdc-r" class="n"><rect x="830" y="418" width="43" height="18"/><text x="851.5" y="431.5">SDC</text></g>
<g id="f-itgav" class="n"><rect x="830" y="452" width="43" height="20"/><rect x="830" y="472" width="43" height="20"/><text x="851.5" y="466.5">ITGAV</text><text x="851.5" y="486.5">ITGB8</text></g>
<g id="f-itga8" class="n"><rect x="830" y="501" width="43" height="20"/><rect x="830" y="521" width="43" height="20"/><text x="851.5" y="515.5">ITGA8</text><text x="851.5" y="535.5">ITGB1</text></g>
<g id="f-nlgn" class="n"><rect x="830" y="558" width="43" height="18"/><text x="851.5" y="571.5">NLGN</text></g>
<g id="f2-igsf4b-l" class="n"><rect x="752" y="659" width="43" height="18"/><text x="773.5" y="672.5" textLength="40" lengthAdjust="spacingAndGlyphs">IGSF4B</text></g>
<g id="f2-nrcam" class="n"><rect x="752" y="702" width="43" height="18"/><text x="773.5" y="715.5" textLength="41" lengthAdjust="spacingAndGlyphs">NRCAM</text></g>
<g id="f2-ptprm-l" class="n"><rect x="752" y="742" width="43" height="18"/><text x="773.5" y="755.5">PTPRM</text></g>
<g id="f2-ncam-l" class="n"><rect x="752" y="782" width="43" height="18"/><text x="773.5" y="795.5">NCAM</text></g>
<g id="f2-cntn2-l" class="n"><rect x="752" y="824" width="43" height="18"/><text x="773.5" y="837.5">CNTN2</text></g>
<g id="f2-l1cam-l" class="n"><rect x="752" y="864" width="43" height="18"/><text x="773.5" y="877.5" textLength="40" lengthAdjust="spacingAndGlyphs">L1CAM</text></g>
<g id="f2-cdh2-l" class="n"><rect x="752" y="903" width="43" height="18"/><text x="773.5" y="916.5">CDH2</text></g>
<g id="f2-igsf4b-r" class="n"><rect x="830" y="659" width="43" height="18"/><text x="851.5" y="672.5" textLength="40" lengthAdjust="spacingAndGlyphs">IGSF4B</text></g>
<g id="f2-cntn1" class="n"><rect x="830" y="702" width="43" height="18"/><text x="851.5" y="715.5">CNTN1</text></g>
<g id="f2-ptprm-r" class="n"><rect x="830" y="742" width="43" height="18"/><text x="851.5" y="755.5">PTPRM</text></g>
<g id="f2-ncam-r" class="n"><rect x="830" y="782" width="43" height="18"/><text x="851.5" y="795.5">NCAM</text></g>
<g id="f2-cntn2-r" class="n"><rect x="830" y="824" width="43" height="18"/><text x="851.5" y="837.5">CNTN2</text></g>
<g id="f2-l1cam-r" class="n"><rect x="830" y="864" width="43" height="18"/><text x="851.5" y="877.5" textLength="40" lengthAdjust="spacingAndGlyphs">L1CAM</text></g>
<g id="f2-cdh2-r" class="n"><rect x="830" y="903" width="43" height="18"/><text x="851.5" y="916.5">CDH2</text></g>

<!-- Panel G/H: Schwann cell, oligodendrocyte, axon -->
<g id="g-sdc" class="n"><rect x="927" y="118" width="43" height="18"/><text x="948.5" y="131.5">SDC</text></g>
<g id="g-nf155" class="n"><rect x="927" y="181" width="43" height="18"/><text x="948.5" y="194.5">NF155</text></g>
<g id="g-cntn2-l" class="n"><rect x="927" y="261" width="43" height="18"/><text x="948.5" y="274.5">CNTN2</text></g>
<g id="g-nrcam" class="n"><rect x="1005" y="102" width="43" height="18"/><text x="1026.5" y="115.5" textLength="41" lengthAdjust="spacingAndGlyphs">NRCAM</text></g>
<g id="g-nf186" class="n"><rect x="1005" y="136" width="43" height="18"/><text x="1026.5" y="149.5">NF186</text></g>
<g id="g-cntn1" class="n"><rect x="1005" y="180" width="43" height="20"/><rect x="1005" y="200" width="43" height="20"/><text x="1026.5" y="194.5">CNTN1</text><text x="1026.5" y="214.5" textLength="41" lengthAdjust="spacingAndGlyphs">CNTNAP1</text></g>
<g id="g-cntn2-r" class="n"><rect x="1005" y="261" width="43" height="20"/><rect x="1005" y="281" width="43" height="20"/><text x="1026.5" y="275.5">CNTN2</text><text x="1026.5" y="295.5" textLength="41" lengthAdjust="spacingAndGlyphs">CNTNAP2</text></g>
<g id="h-mpz-l" class="n"><rect x="927" y="401" width="43" height="18"/><text x="948.5" y="414.5">MPZ</text></g>
<g id="h-mag-l" class="n"><rect x="927" y="437" width="43" height="18"/><text x="948.5" y="450.5">MAG</text></g>
<g id="h-cdhe-l" class="n"><rect x="927" y="473" width="43" height="18"/><text x="948.5" y="486.5">CDHE</text></g>
<g id="h-mpz-r" class="n"><rect x="1005" y="401" width="43" height="18"/><text x="1026.5" y="414.5">MPZ</text></g>
<g id="h-mag-r" class="n"><rect x="1005" y="437" width="43" height="18"/><text x="1026.5" y="450.5">MAG</text></g>
<g id="h-cdhe-r" class="n"><rect x="1005" y="473" width="43" height="18"/><text x="1026.5" y="486.5">CDHE</text></g>
<g id="o-cspg2" class="n"><rect x="927" y="614" width="43" height="18"/><text x="948.5" y="627.5">CSPG2</text></g>
<g id="o-nfasc" class="n"><rect x="927" y="692" width="43" height="18"/><text x="948.5" y="705.5">NFASC</text></g>
<g id="o-cntn1" class="n"><rect x="927" y="718" width="43" height="18"/><text x="948.5" y="731.5">CNTN1</text></g>
<g id="o-cntn2" class="n"><rect x="927" y="768" width="43" height="18"/><text x="948.5" y="781.5">CNTN2</text></g>
<g id="o-nrcam" class="n"><rect x="1005" y="584" width="43" height="18"/><text x="1026.5" y="597.5" textLength="41" lengthAdjust="spacingAndGlyphs">NRCAM</text></g>
<g id="o-nfasc-r" class="n"><rect x="1005" y="612" width="43" height="18"/><text x="1026.5" y="625.5">NFASC</text></g>
<g id="o-cntn1-r" class="n"><rect x="1005" y="640" width="43" height="18"/><text x="1026.5" y="653.5">CNTN1</text></g>
<g id="o-cntn1ap" class="n"><rect x="1005" y="690" width="43" height="20"/><rect x="1005" y="710" width="43" height="20"/><text x="1026.5" y="704.5">CNTN1</text><text x="1026.5" y="724.5" textLength="41" lengthAdjust="spacingAndGlyphs">CNTNAP1</text></g>
<g id="o-cntn2ap" class="n"><rect x="1005" y="767" width="43" height="20"/><rect x="1005" y="787" width="43" height="20"/><text x="1026.5" y="781.5">CNTN2</text><text x="1026.5" y="801.5" textLength="41" lengthAdjust="spacingAndGlyphs">CNTNAP2</text></g>
<g id="o-cldn11-l" class="n"><rect x="927" y="903" width="43" height="18"/><text x="948.5" y="916.5" textLength="41" lengthAdjust="spacingAndGlyphs">CLDN11</text></g>
<g id="o-cldn11-r" class="n"><rect x="1005" y="903" width="43" height="18"/><text x="1026.5" y="916.5" textLength="41" lengthAdjust="spacingAndGlyphs">CLDN11</text></g>

<!-- Panel I: Other systems -->
<g id="i-cldn-l" class="n"><rect x="1103" y="94" width="43" height="18"/><text x="1124.5" y="107.5">CLDN</text></g>
<g id="i-ocln-l" class="n"><rect x="1103" y="126" width="43" height="18"/><text x="1124.5" y="139.5">OCLN</text></g>
<g id="i-jam1-l" class="n"><rect x="1103" y="160" width="43" height="18"/><text x="1124.5" y="173.5">JAM1</text></g>
<g id="i-pvrl1-l" class="n"><rect x="1103" y="191" width="43" height="18"/><text x="1124.5" y="204.5">PVRL1</text></g>
<g id="i-cdhe-l" class="n"><rect x="1103" y="223" width="43" height="18"/><text x="1124.5" y="236.5">CDHE</text></g>
<g id="i-igsf4-l" class="n"><rect x="1103" y="256" width="43" height="18"/><text x="1124.5" y="269.5">IGSF4</text></g>
<g id="i-cldn-r" class="n"><rect x="1180" y="94" width="43" height="18"/><text x="1201.5" y="107.5">CLDN</text></g>
<g id="i-ocln-r" class="n"><rect x="1180" y="126" width="43" height="18"/><text x="1201.5" y="139.5">OCLN</text></g>
<g id="i-jam1-r" class="n"><rect x="1180" y="160" width="43" height="18"/><text x="1201.5" y="173.5">JAM1</text></g>
<g id="i-pvrl1-r" class="n"><rect x="1180" y="191" width="43" height="18"/><text x="1201.5" y="204.5">PVRL1</text></g>
<g id="i-cdhe-r" class="n"><rect x="1180" y="223" width="43" height="18"/><text x="1201.5" y="236.5">CDHE</text></g>
<g id="i-igsf4-r" class="n"><rect x="1180" y="256" width="43" height="18"/><text x="1201.5" y="269.5">IGSF4</text></g>
<g id="s-cdhe-l" class="n"><rect x="1103" y="454" width="43" height="18"/><text x="1124.5" y="467.5">CDHE</text></g>
<g id="s-cdh2-l" class="n"><rect x="1103" y="484" width="43" height="18"/><text x="1124.5" y="497.5">CDH2</text></g>
<g id="s-pvrl3" class="n"><rect x="1103" y="516" width="43" height="18"/><text x="1124.5" y="529.5">PVRL3</text></g>
<g id="s-cdhe-r" class="n"><rect x="1180" y="454" width="43" height="18"/><text x="1201.5" y="467.5">CDHE</text></g>
<g id="s-cdh2-r" class="n"><rect x="1180" y="484" width="43" height="18"/><text x="1201.5" y="497.5">CDH2</text></g>
<g id="s-pvrl2" class="n"><rect x="1180" y="516" width="43" height="18"/><text x="1201.5" y="529.5">PVRL2</text></g>
<g id="s-itga6" class="n"><rect x="1180" y="543" width="43" height="20"/><rect x="1180" y="563" width="43" height="20"/><text x="1201.5" y="557.5">ITGA6</text><text x="1201.5" y="577.5">ITGB1</text></g>
<g id="cb-pvrl1-l" class="n"><rect x="1103" y="675" width="43" height="18"/><text x="1124.5" y="688.5">PVRL1</text></g>
<g id="cb-pvrl3-l" class="n"><rect x="1103" y="707" width="43" height="18"/><text x="1124.5" y="720.5">PVRL3</text></g>
<g id="cb-cdh3-l" class="n"><rect x="1103" y="740" width="43" height="18"/><text x="1124.5" y="753.5">CDH3</text></g>
<g id="cb-pvrl3-r" class="n"><rect x="1180" y="675" width="43" height="18"/><text x="1201.5" y="688.5">PVRL3</text></g>
<g id="cb-pvrl1-r" class="n"><rect x="1180" y="707" width="43" height="18"/><text x="1201.5" y="720.5">PVRL1</text></g>
<g id="cb-cdh3-r" class="n"><rect x="1180" y="740" width="43" height="18"/><text x="1201.5" y="753.5">CDH3</text></g>
<g id="my-cdh2-l" class="n"><rect x="1103" y="818" width="43" height="18"/><text x="1124.5" y="831.5">CDH2</text></g>
<g id="my-cdh4-l" class="n"><rect x="1103" y="848" width="43" height="18"/><text x="1124.5" y="861.5">CDH4</text></g>
<g id="my-cdh15-l" class="n"><rect x="1103" y="878" width="43" height="18"/><text x="1124.5" y="891.5">CDH15</text></g>
<g id="my-cdh2-r" class="n"><rect x="1180" y="818" width="43" height="18"/><text x="1201.5" y="831.5">CDH2</text></g>
<g id="my-cdh4-r" class="n"><rect x="1180" y="848" width="43" height="18"/><text x="1201.5" y="861.5">CDH4</text></g>
<g id="my-cdh15-r" class="n"><rect x="1180" y="878" width="43" height="18"/><text x="1201.5" y="891.5">CDH15</text></g>
<g id="my-neo1" class="n"><rect x="1180" y="909" width="43" height="18"/><text x="1201.5" y="922.5">NEO1</text></g>

<!-- Pathway links -->
<g id="p-tcr" class="pw"><rect x="59" y="965" width="97" height="43" rx="14"/><text class="t" x="107" y="983">T cell receptor</text><text class="t" x="107" y="997">signaling pathway</text></g>
<g id="p-tj1" class="pw"><rect x="411" y="433" width="96" height="30" rx="14"/><text class="t" x="459" y="452">Tight junction</text></g>
<g id="p-ltm1" class="pw"><rect x="411" y="478" width="96" height="55" rx="14"/><text class="t" x="459" y="498">Leukocyte</text><text class="t" x="459" y="510">transendothelial</text><text class="t" x="459" y="522">migration</text></g>
<g id="p-cc" class="pw"><rect x="411" y="958" width="96" height="42" rx="14"/><text class="t" x="459" y="977">Complement and</text><text class="t" x="459" y="990">coagulation cascade</text></g>
<g id="p-ltm2" class="pw"><rect x="590" y="951" width="96" height="54" rx="14"/><text class="t" x="638" y="971">Leukocyte</text><text class="t" x="638" y="983">transendothelial</text><text class="t" x="638" y="996">migration</text></g>
<g id="p-tj2" class="pw"><rect x="1116" y="302" width="96" height="40" rx="14"/><text class="t" x="1164" y="321">Tight</text><text class="t" x="1164" y="334">junction</text></g>
<g id="p-aj" class="pw"><rect x="1116" y="358" width="96" height="40" rx="14"/><text class="t" x="1164" y="376">Adherens</text><text class="t" x="1164" y="389">junction</text></g>

<g id="stars" class="star">
<use href="#st" x="397" y="93"/><use href="#st" x="476" y="93"/>
<use href="#st" x="397" y="204"/><use href="#st" x="476" y="204"/>
<use href="#st" x="397" y="278"/><use href="#st" x="476" y="278"/>
<use href="#st" x="397" y="315"/><use href="#st" x="476" y="315"/>
<use href="#st" x="651" y="349"/><use href="#st" x="651" y="580"/>
<use href="#st" x="1100" y="96"/><use href="#st" x="1179" y="96"/>
</g>

<g id="labels">
<g id="title"><rect x="29" y="22" width="216" height="30" fill="#fff" stroke="#111" stroke-width="2"/><text x="137" y="43" font-family="Liberation Serif, serif" font-size="15" text-anchor="middle" textLength="186" lengthAdjust="spacingAndGlyphs">CELL ADHESION MOLECULES</text></g>
<text class="h" x="107" y="80" textLength="97" lengthAdjust="spacingAndGlyphs">IMMUNE SYSTEM</text>
<text class="h" x="811" y="18" textLength="94" lengthAdjust="spacingAndGlyphs">NEURAL SYSTEM</text>
<text class="h" x="1161" y="18" textLength="94" lengthAdjust="spacingAndGlyphs">OTHER SYSTEMS</text>
<text class="t" x="76" y="101">APC</text>
<text class="t" x="76" y="113">(DC, Macrophage)</text>
<text class="t" x="146" y="110">T Cell</text>
<text class="t" x="244" y="104">Cytotoxic</text>
<text class="t" x="244" y="115">T cell</text>
<text class="t" x="322" y="110">Target cell</text>
<text class="t" x="244" y="475">Helper</text>
<text class="t" x="244" y="487">T cell</text>
<text class="t" x="321" y="482">B Cell</text>
<text class="t" x="461" y="62">Endothelial cells</text>
<text class="t" x="422" y="555">Leukocyte</text>
<text class="t" x="499" y="555">Platelet</text>
<text class="t" x="419" y="797">Platelet</text>
<text class="t" x="498" y="792">Endothelial</text>
<text class="t" x="498" y="804">cell</text>
<text class="t" x="597" y="62">Leukocyte</text>
<text class="t" x="673" y="56">Endothelial</text>
<text class="t" x="673" y="67">cell</text>
<text class="t" x="773" y="57">Neuron</text>
<text class="t" x="773" y="68">(presynaptic)</text>
<text class="t" x="850" y="57">Neuron</text>
<text class="t" x="850" y="68">(postsynaptic)</text>
<text class="t" x="773" y="620">Neuron</text>
<text class="t" x="773" y="632">(growth cone)</text>
<text class="t" x="849" y="620">Neuron</text>
<text class="t" x="849" y="632">(axon)</text>
<text class="t" x="948" y="52">Schwann cell</text>
<text class="t" x="948" y="63">(myelin)</text>
<text class="t" x="1025" y="54">Neuron</text>
<text class="t" x="1025" y="67">(axon)</text>
<text class="t" x="987" y="103">Node</text>
<text class="t" x="990" y="174">Paranode</text>
<text class="t" x="988" y="242">Juxta-</text>
<text class="t" x="988" y="254">paranode</text>
<text class="t" x="990" y="356">Schwann cell (myelin)</text>
<text class="t" x="987" y="384">Intraperiod</text>
<text class="t" x="987" y="395">line</text>
<text class="t" x="952" y="544">Oligodendrocyte</text>
<text class="t" x="952" y="555">(myelin)</text>
<text class="t" x="1027" y="541">Neuron</text>
<text class="t" x="1027" y="553">(axon)</text>
<text class="t" x="986" y="581">Node</text>
<text class="t" x="987" y="683">Paranode</text>
<text class="t" x="984" y="747">Juxta-</text>
<text class="t" x="984" y="759">paranode</text>
<text class="t" x="988" y="854">Oligodendrocyte (myelin)</text>
<text class="t" x="987" y="881">Intraperiod</text>
<text class="t" x="987" y="892">line</text>
<text class="t" x="1163" y="61">Epithelial cells</text>
<text class="t" x="1123" y="430">Spermatid</text>
<text class="t" x="1204" y="430">Sertoli cell</text>
<text class="t" x="1163" y="620">Ciliary body</text>
<text class="t" x="1125" y="631">Pigment</text>
<text class="t" x="1125" y="642">epithelia</text>
<text class="t" x="1207" y="631">Non-pigment</text>
<text class="t" x="1207" y="642">epithelia</text>
<text class="t" x="1160" y="796">Myoblasts</text>
<text class="t" x="108" y="337" font-size="11">Peptide</text>
<text class="t" x="179" y="341">(Th)</text>
<text class="t" x="107" y="413" font-size="11">Peptide</text>
<text class="t" x="179" y="419">(Tc)</text>
<text class="t" x="179" y="726">Th1)</text>
<text class="t" x="40" y="925">(M)</text>
<text class="t" x="285" y="222" font-size="11">Peptide</text>
<text class="t" x="285" y="627" font-size="11">Peptide</text>
<text class="t" x="146" y="494">?</text>
<text class="t" x="146" y="557">?</text>
<text class="t" x="146" y="586">?</text>
<text class="t" x="244" y="749">?</text>
<text class="t" x="771" y="471">?</text>
<text class="t" x="771" y="526">?</text>
<text x="6" y="1026" font-family="Liberation Serif, serif" font-size="11" fill="#111">04514 4/12/19</text>
<text x="6" y="1039" font-family="Liberation Serif, serif" font-size="11" fill="#111">(c) Kanehisa Laboratories</text>
</g>
</svg>
